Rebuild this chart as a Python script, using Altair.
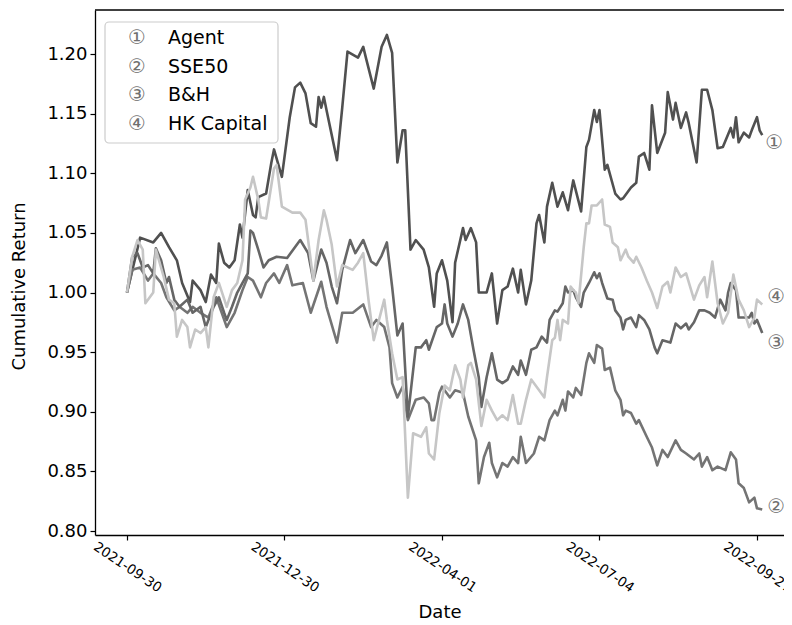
import altair as alt
import pandas as pd

# ---------------- data ----------------
series_names = ["Agent", "SSE50", "B&H", "HK Capital"]
series_marks = ["①", "②", "③", "④"]

agent_day = [0, 5, 10, 13, 16, 19, 21, 24, 25, 28, 30, 32, 34, 35, 37, 39, 41, 43, 44, 46,
             48, 49, 50, 53, 55, 56, 59, 62, 64, 66, 68, 70, 72, 73, 74, 75, 76, 80, 82, 84,
             88, 90, 91, 94, 97, 99, 101, 103, 105, 106, 108, 110, 113, 115, 117, 118, 120, 122, 124, 125,
             128, 129, 131, 133, 134, 137, 139, 141, 143, 145, 147, 149, 150, 152, 154, 156, 157, 159, 160, 162,
             164, 166, 168, 170, 173, 175, 176, 178, 179, 180, 182, 183, 186, 188, 189, 192, 194, 195, 197, 199,
             200, 202, 205, 206, 208, 209, 211, 213, 214, 217, 219, 221, 223, 225, 227, 230, 231, 232, 233, 235,
             237, 238, 240, 241, 242]
agent_ret = [1.000, 1.046, 1.042, 1.050, 1.038, 1.027, 1.008, 0.992, 1.010, 1.002, 0.992, 1.015, 1.008, 1.041, 1.025, 1.021, 1.027, 1.057, 1.046, 1.086,
             1.065, 1.063, 1.080, 1.083, 1.109, 1.120, 1.097, 1.147, 1.172, 1.176, 1.167, 1.142, 1.139, 1.164, 1.155, 1.164, 1.153, 1.111, 1.155, 1.202,
             1.197, 1.206, 1.197, 1.171, 1.206, 1.216, 1.201, 1.109, 1.136, 1.136, 1.036, 1.044, 1.036, 1.021, 0.988, 1.016, 1.027, 1.010, 0.975, 1.025,
             1.054, 1.044, 1.054, 1.042, 1.000, 1.000, 1.016, 0.974, 1.002, 1.005, 1.020, 1.000, 1.019, 0.990, 1.010, 1.058, 1.065, 1.042, 1.072, 1.092,
             1.072, 1.084, 1.069, 1.094, 1.068, 1.122, 1.128, 1.153, 1.143, 1.153, 1.103, 1.107, 1.083, 1.078, 1.079, 1.088, 1.092, 1.114, 1.117, 1.103,
             1.157, 1.117, 1.134, 1.168, 1.145, 1.159, 1.138, 1.151, 1.142, 1.109, 1.170, 1.170, 1.153, 1.121, 1.122, 1.138, 1.130, 1.147, 1.126, 1.134,
             1.130, 1.136, 1.147, 1.136, 1.132]

sse_day = [0, 2, 5, 8, 10, 13, 15, 18, 20, 23, 25, 28, 31, 34, 38, 41, 44, 46, 48, 51,
           53, 56, 58, 61, 63, 67, 70, 74, 76, 80, 82, 86, 90, 93, 95, 98, 100, 101, 103, 105,
           107, 110, 113, 115, 116, 117, 119, 120, 123, 125, 128, 130, 133, 134, 136, 138, 139, 141, 143, 145,
           147, 149, 150, 152, 155, 157, 159, 161, 163, 164, 166, 167, 168, 170, 171, 173, 175, 176, 178, 179,
           181, 182, 184, 186, 188, 189, 190, 192, 194, 195, 198, 200, 202, 204, 206, 209, 211, 213, 216, 218,
           219, 221, 223, 225, 228, 230, 232, 233, 235, 237, 239, 240, 242]
sse_ret = [1.000, 1.019, 1.021, 1.010, 1.016, 1.008, 0.996, 0.985, 0.988, 0.983, 0.988, 0.983, 0.979, 0.996, 0.971, 0.983, 1.002, 1.013, 1.010, 0.996,
           1.008, 1.016, 1.008, 1.023, 1.006, 1.008, 0.983, 1.009, 0.988, 0.958, 0.983, 0.983, 0.990, 0.971, 0.977, 0.971, 0.954, 0.924, 0.912, 0.921,
           0.893, 0.910, 0.912, 0.907, 0.893, 0.893, 0.916, 0.921, 0.912, 0.918, 0.916, 0.896, 0.876, 0.840, 0.862, 0.874, 0.857, 0.845, 0.857, 0.854,
           0.862, 0.857, 0.879, 0.857, 0.865, 0.879, 0.876, 0.893, 0.901, 0.897, 0.910, 0.901, 0.917, 0.912, 0.920, 0.914, 0.941, 0.949, 0.941, 0.956,
           0.953, 0.935, 0.937, 0.918, 0.910, 0.897, 0.901, 0.899, 0.890, 0.893, 0.879, 0.870, 0.855, 0.868, 0.862, 0.876, 0.868, 0.865, 0.860, 0.865,
           0.854, 0.862, 0.851, 0.854, 0.851, 0.866, 0.860, 0.840, 0.836, 0.824, 0.828, 0.819, 0.818]

bh_day = [0, 2, 4, 6, 8, 10, 11, 13, 15, 16, 18, 20, 23, 25, 28, 30, 33, 35, 37, 38,
          40, 42, 44, 46, 47, 48, 50, 52, 54, 57, 61, 66, 69, 71, 74, 76, 78, 80, 82, 85,
          87, 90, 93, 95, 97, 99, 101, 103, 105, 107, 110, 112, 114, 115, 118, 120, 121, 122, 124, 126,
          128, 130, 132, 134, 135, 137, 139, 141, 143, 145, 147, 149, 150, 152, 154, 156, 158, 160, 161, 163,
          164, 166, 167, 168, 170, 171, 173, 174, 176, 178, 179, 180, 181, 183, 185, 186, 188, 189, 190, 192,
          194, 195, 197, 199, 201, 202, 204, 207, 209, 211, 213, 214, 216, 218, 220, 222, 224, 226, 228, 229,
          230, 232, 233, 235, 237, 238, 239, 240, 242]
bh_ret = [1.000, 1.030, 1.033, 1.021, 1.023, 1.016, 1.037, 1.027, 1.008, 1.013, 0.994, 0.988, 0.994, 0.983, 0.988, 0.971, 0.988, 0.996, 0.983, 0.977,
          0.988, 1.000, 1.008, 1.016, 1.052, 1.050, 1.036, 1.021, 1.027, 1.030, 1.029, 1.044, 1.033, 1.010, 1.036, 1.025, 1.005, 0.991, 1.019, 1.044,
          1.033, 1.044, 1.026, 1.023, 1.031, 1.042, 1.005, 0.964, 0.974, 0.896, 0.954, 0.954, 0.960, 0.952, 0.971, 0.974, 0.990, 0.974, 0.963, 0.974,
          0.990, 0.977, 0.952, 0.929, 0.904, 0.929, 0.949, 0.927, 0.924, 0.927, 0.938, 0.931, 0.943, 0.931, 0.952, 0.954, 0.963, 0.958, 0.977, 0.985,
          0.984, 0.991, 1.005, 1.000, 1.002, 0.996, 0.988, 1.000, 1.008, 1.017, 1.012, 1.016, 1.008, 0.995, 0.994, 0.985, 0.979, 0.969, 0.977, 0.979,
          0.971, 0.981, 0.977, 0.969, 0.954, 0.949, 0.960, 0.958, 0.974, 0.970, 0.974, 0.969, 0.975, 0.985, 0.985, 0.983, 0.979, 0.994, 0.985, 1.000,
          1.008, 1.002, 0.979, 0.979, 0.979, 0.983, 0.974, 0.977, 0.966]

hk_day = [0, 2, 4, 6, 7, 10, 11, 14, 16, 18, 19, 21, 23, 24, 26, 28, 30, 31, 33, 35,
          38, 40, 42, 44, 45, 47, 48, 50, 51, 53, 56, 57, 59, 63, 66, 68, 71, 73, 75, 76,
          78, 80, 82, 84, 86, 88, 90, 92, 94, 96, 98, 99, 101, 103, 105, 107, 109, 112, 114, 115,
          117, 119, 121, 123, 125, 127, 128, 130, 131, 133, 135, 137, 139, 141, 143, 145, 147, 149, 150, 152,
          154, 157, 159, 160, 162, 163, 164, 165, 166, 168, 169, 170, 171, 172, 174, 175, 176, 177, 179, 181,
          182, 184, 185, 187, 188, 190, 191, 193, 194, 196, 198, 200, 202, 204, 206, 207, 209, 211, 213, 216,
          218, 220, 221, 223, 225, 227, 229, 231, 233, 235, 237, 239, 240, 242]
hk_ret = [1.000, 1.030, 1.044, 1.036, 0.991, 1.000, 1.036, 1.013, 0.994, 0.991, 0.963, 0.977, 0.971, 0.954, 0.969, 0.966, 0.971, 0.954, 0.996, 1.008,
          0.988, 1.002, 1.008, 1.027, 1.078, 1.088, 1.097, 1.078, 1.063, 1.062, 1.104, 1.107, 1.072, 1.067, 1.067, 1.061, 1.010, 1.044, 1.069, 1.061,
          1.040, 1.005, 1.023, 1.021, 1.019, 1.025, 1.033, 0.994, 0.960, 0.977, 0.994, 0.977, 0.949, 0.927, 0.929, 0.828, 0.882, 0.879, 0.887, 0.865,
          0.860, 0.899, 0.922, 0.918, 0.939, 0.927, 0.912, 0.939, 0.941, 0.927, 0.888, 0.910, 0.901, 0.893, 0.897, 0.893, 0.914, 0.890, 0.890, 0.910,
          0.927, 0.918, 0.912, 0.929, 0.960, 0.962, 0.977, 0.960, 0.977, 0.974, 1.005, 1.002, 1.000, 0.991, 1.038, 1.058, 1.058, 1.073, 1.073, 1.078,
          1.057, 1.055, 1.042, 1.038, 1.027, 1.036, 1.030, 1.025, 1.030, 1.021, 1.010, 1.000, 0.987, 1.005, 1.009, 1.000, 1.021, 1.013, 1.016, 0.994,
          1.006, 1.013, 0.996, 1.026, 0.991, 0.974, 0.983, 1.015, 0.994, 0.985, 0.971, 0.979, 0.994, 0.990]

tick_days = [0, 60, 120, 180, 240]
tick_dates = ["2021-09-30", "2021-12-30", "2022-04-01", "2022-07-04", "2022-09-27"]
y_ticks = [0.80, 0.85, 0.90, 0.95, 1.00, 1.05, 1.10, 1.15, 1.20]

# ---------------- style ----------------
FONT = "DejaVu Sans"
W, H = 689, 525
colors = ["#505050", "#747474", "#666666", "#c6c6c6"]
end_dx = [12, 14, 14, 14]
end_dy = [8, -3, 10, -7]
legend_rows_y = [28, 57, 85, 114]
mark_color = "#707070"

days_all = [agent_day, sse_day, bh_day, hk_day]
rets_all = [agent_ret, sse_ret, bh_ret, hk_ret]

frames = []
for name, d, r in zip(series_names, days_all, rets_all):
    assert len(d) == len(r), name
    frames.append(pd.DataFrame({"day": d, "ret": r, "series": name}))

label_expr = " : ".join(
    f"datum.value == {d} ? '{t}'" for d, t in zip(tick_days, tick_dates)
) + " : ''"

x_enc = alt.X(
    "day:Q",
    scale=alt.Scale(domain=[-12.19, 250.29], nice=False, zero=False),
    axis=alt.Axis(
        values=tick_days, labelExpr=label_expr, labelAngle=34, labelAlign="center",
        labelBaseline="middle", labelPadding=27, labelFontSize=13.5, labelFlush=False,
        labelOverlap=False, labelBound=False, tickSize=5, tickWidth=1.2, domainWidth=1.3,
        title="Date", titleFontSize=18, titleFontWeight="normal", titleY=77,
        titleBaseline="middle", grid=False, domainColor="black", tickColor="black",
        labelColor="black", titleColor="black", labelFont=FONT, titleFont=FONT,
    ),
)
y_enc = alt.Y(
    "ret:Q",
    scale=alt.Scale(domain=[0.79665, 1.2369], nice=False, zero=False),
    axis=alt.Axis(
        values=y_ticks, format=".2f", labelFontSize=18, labelPadding=3, tickSize=5,
        tickWidth=1.2, domainWidth=1.3, labelFlush=False, labelOverlap=False,
        title="Cumulative Return", titleFontSize=18, titleFontWeight="normal",
        titleX=-76, titleY=276, titleBaseline="middle", grid=False,
        domainColor="black", tickColor="black", labelColor="black", titleColor="black",
        labelFont=FONT, titleFont=FONT,
    ),
)

layers = []
for name, df, col in zip(series_names, frames, colors):
    layers.append(
        alt.Chart(df).mark_line(strokeWidth=2.6, color=col, strokeJoin="round")
        .encode(x=x_enc, y=y_enc)
    )

for i, (df, sym) in enumerate(zip(frames, series_marks)):
    last = df.tail(1).assign(sym=sym)
    layers.append(
        alt.Chart(last).mark_text(
            dx=end_dx[i], dy=end_dy[i], align="center", baseline="middle",
            fontSize=20, font=FONT, color=mark_color,
        ).encode(x=x_enc, y=y_enc, text="sym:N")
    )

dummy = pd.DataFrame({"k": [0]})
# top spine
layers.append(
    alt.Chart(dummy).mark_rule(color="black", strokeWidth=1.3)
    .encode(x=alt.value(0), x2=alt.value(W), y=alt.value(0))
)
# legend frame
layers.append(
    alt.Chart(dummy).mark_rect(
        fill="white", fillOpacity=0.85, stroke="#cccccc", strokeWidth=1.2, cornerRadius=4
    ).encode(x=alt.value(10), x2=alt.value(183), y=alt.value(12), y2=alt.value(133))
)
for i, (sym, name) in enumerate(zip(series_marks, series_names)):
    row = pd.DataFrame({"sym": [sym], "name": [name]})
    layers.append(
        alt.Chart(row).mark_text(align="center", baseline="middle", fontSize=20,
                                 font=FONT, color=mark_color)
        .encode(x=alt.value(42), y=alt.value(legend_rows_y[i]), text="sym:N")
    )
    layers.append(
        alt.Chart(row).mark_text(align="left", baseline="middle", fontSize=19,
                                 font=FONT, color="black")
        .encode(x=alt.value(73), y=alt.value(legend_rows_y[i]), text="name:N")
    )

chart = (
    alt.layer(*layers)
    .properties(
        width=W, height=H,
        autosize=alt.AutoSizeParams(type="none"),
        padding={"left": 87, "top": 2, "right": 0, "bottom": 95},
        background="white",
    )
    .configure_view(stroke=None)
)

chart.save("out.html", embed_options={"renderer": "svg", "actions": False})
